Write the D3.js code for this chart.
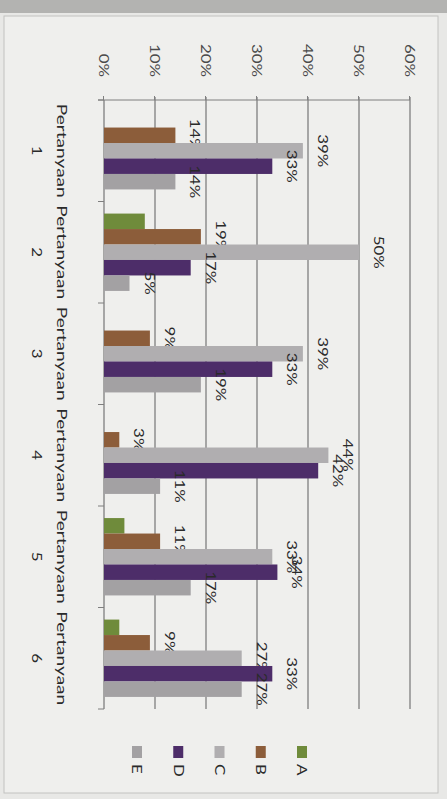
<!DOCTYPE html>
<html>
<head>
<meta charset="utf-8">
<script src="https://cdn.jsdelivr.net/npm/d3@7"></script>
<style>
  body { margin: 0; background: #e8e8e6; }
  svg { display: block; font-family: Lato, 'Open Sans', sans-serif; }
</style>
</head>
<body>
<div class="chart"></div>
<script>
let categories = ['1', '2', '3', '4', '5', '6'];
let categoryWord = 'Pertanyaan';
let seriesNames = ['A', 'B', 'C', 'D', 'E'];
let valuesA = [0, 8, 0, 0, 4, 3];
let valuesB = [14, 19, 9, 3, 11, 9];
let valuesC = [39, 50, 39, 44, 33, 27];
let valuesD = [33, 17, 33, 42, 34, 33];
let valuesE = [14, 5, 19, 11, 17, 27];
let valueTicks = [0, 10, 20, 30, 40, 50, 60];

let seriesValues = [valuesA, valuesB, valuesC, valuesD, valuesE];
let seriesColors = ['#6f8b3b', '#8c5d3a', '#b0aeb0', '#4d2d69', '#a3a1a3'];
let showLabel = [false, true, true, true, true];

let w = 447, h = 799;
let S = 1.3;      // photo is stretched along the category direction, text too
let catS = 1.47;  // category words nearly run together in the photo

let svg = d3.select('.chart').append('svg').attr('width', w).attr('height', h);

/* ==== PAGE / FRAME ==== */
svg.append('rect').attr('x', 0).attr('y', 0).attr('width', w).attr('height', h).attr('fill', '#e8e8e6');
svg.append('rect').attr('x', 0).attr('y', 0).attr('width', w).attr('height', 13).attr('fill', '#b3b3b1');
svg.append('rect')
    .attr('x', 4).attr('y', 16).attr('width', 434).attr('height', 777)
    .attr('fill', '#efefed').attr('stroke', '#c2c2c0');

// the chart is photographed turned a quarter clockwise: draw it upright, then rotate
let g = svg.append('g').attr('transform', 'translate(' + w + ',0) rotate(90)');

/* ==== SCALES ==== */
let x = d3.scaleBand().domain(categories).range([100, 709]);
let xs = d3.scaleBand().domain(seriesNames).range([0, x.bandwidth()]).paddingOuter(0.78);
let y = d3.scaleLinear().domain([0, 60]).range([343, 37]);
let color = d3.scaleOrdinal().domain(seriesNames).range(seriesColors);

/* ==== GRID & AXES ==== */
g.append('g').selectAll('line')
    .data(valueTicks.filter(function (t) { return t > 0; }))
    .enter().append('line')
    .attr('x1', 97).attr('x2', 709)
    .attr('y1', function (d) { return y(d); })
    .attr('y2', function (d) { return y(d); })
    .attr('stroke', '#7f7f7f').attr('stroke-width', 1.3);

let yAxis = d3.axisLeft(y).tickValues(valueTicks).tickSize(4).tickFormat('');
g.append('g')
    .attr('transform', 'translate(100,0)')
    .call(yAxis)
    .call(function (a) {
        a.select('.domain').attr('stroke', '#7f7f7f').attr('d', 'M0,' + y(60) + 'V349');
        a.selectAll('line').attr('stroke', '#7f7f7f');
    });

g.append('g').selectAll('g')
    .data(valueTicks)
    .enter().append('g')
    .attr('transform', function (d) { return 'translate(77,' + y(d) + ')'; })
    .append('text')
    .attr('transform', 'scale(' + S + ',1)')
    .attr('text-anchor', 'end')
    .attr('dy', '0.35em')
    .attr('font-size', 13)
    .attr('fill', '#4a4a4a')
    .text(function (d) { return d + '%'; });

// category axis with ticks on the boundaries
g.append('line')
    .attr('x1', 100).attr('x2', 709).attr('y1', y(0)).attr('y2', y(0))
    .attr('stroke', '#7f7f7f').attr('stroke-width', 1.3);
g.append('g').selectAll('line')
    .data(categories.map(function (c) { return x(c); }).concat([x.range()[1]]))
    .enter().append('line')
    .attr('x1', function (d) { return d; }).attr('x2', function (d) { return d; })
    .attr('y1', y(0)).attr('y2', y(0) + 6)
    .attr('stroke', '#7f7f7f');

let catLabels = g.append('g').selectAll('g')
    .data(categories)
    .enter().append('g')
    .attr('transform', function (d) { return 'translate(' + (x(d) + x.bandwidth() / 2) + ',0)'; });
catLabels.append('text')
    .attr('transform', 'translate(0,385) scale(' + catS + ',1)')
    .attr('text-anchor', 'middle').attr('dy', '0.35em')
    .attr('font-size', 13).attr('fill', '#2a2a2a')
    .text(categoryWord);
catLabels.append('text')
    .attr('transform', 'translate(0,410) scale(' + S + ',1)')
    .attr('text-anchor', 'middle').attr('dy', '0.35em')
    .attr('font-size', 13).attr('fill', '#2a2a2a')
    .text(function (d) { return d; });

/* ==== BARS ==== */
seriesNames.forEach(function (name, i) {
    let rows = categories.map(function (c, j) { return { cat: c, value: seriesValues[i][j] }; });

    g.append('g').selectAll('rect')
        .data(rows)
        .enter().append('rect')
        .attr('x', function (d) { return x(d.cat) + xs(name); })
        .attr('width', xs.bandwidth())
        .attr('y', function (d) { return y(d.value); })
        .attr('height', function (d) { return y(0) - y(d.value); })
        .attr('fill', color(name));

    if (!showLabel[i]) return;
    g.append('g').selectAll('g')
        .data(rows.filter(function (d) { return d.value > 0; }))
        .enter().append('g')
        .attr('transform', function (d) {
            return 'translate(' + (x(d.cat) + xs(name) + xs.bandwidth() / 2) + ',' + (y(d.value) - 15) + ')';
        })
        .append('text')
        .attr('transform', 'scale(' + S + ',1)')
        .attr('text-anchor', 'middle')
        .attr('font-size', 13)
        .attr('fill', '#2a2a2a')
        .text(function (d) { return d.value + '%'; });
});

/* ==== LEGEND ==== */
let ly = d3.scalePoint().domain(seriesNames).range([145, 310]);
let legend = g.append('g').selectAll('g')
    .data(seriesNames)
    .enter().append('g')
    .attr('transform', function (d) { return 'translate(746,' + ly(d) + ')'; });
legend.append('rect')
    .attr('x', 0).attr('y', -5).attr('width', 12).attr('height', 10)
    .attr('fill', function (d) { return color(d); });
legend.append('text')
    .attr('transform', 'translate(18,0) scale(' + S + ',1)')
    .attr('dy', '0.35em')
    .attr('font-size', 13).attr('fill', '#2a2a2a')
    .text(function (d) { return d; });
</script>
</body>
</html>
